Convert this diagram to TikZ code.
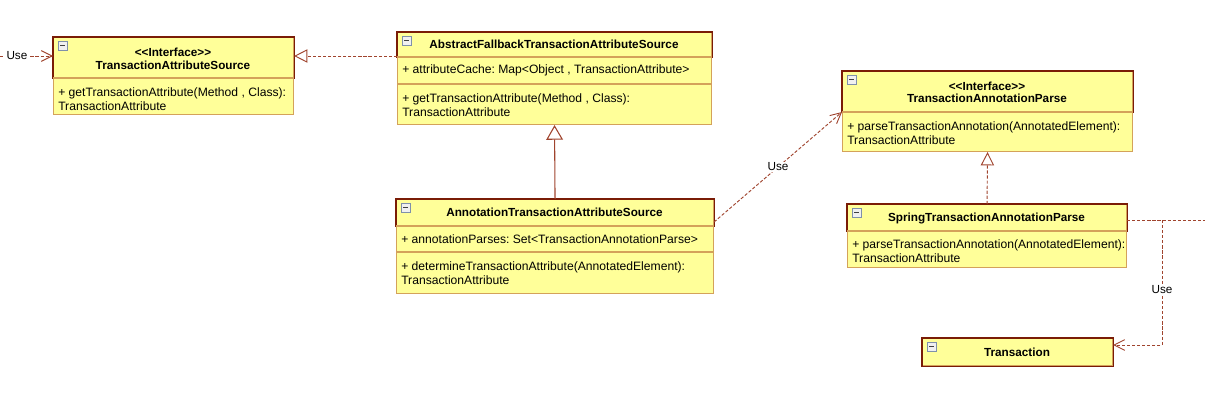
\documentclass[tikz,border=0pt]{standalone}
\usepackage{fontspec}
\setmainfont{Liberation Sans}
\usetikzlibrary{arrows.meta,calc,positioning}
\frenchspacing

\definecolor{classfill}{HTML}{FFFF99}
\definecolor{headline}{HTML}{7A1C06}
\definecolor{partline}{HTML}{D4A25A}
\definecolor{linkline}{HTML}{A0442E}
\definecolor{iconblue}{HTML}{7F90AA}

\tikzset{
  classbox/.style={draw=partline, fill=classfill, line width=0.8pt, inner sep=0pt, anchor=north west},
  headbox/.style={draw=headline, line width=0.85pt},
  divider/.style={draw=partline, line width=0.8pt},
  title/.style={font=\fontsize{8.8}{10}\selectfont\bfseries, inner sep=0pt},
  member/.style={font=\fontsize{9.1}{10.5}\selectfont, align=left, anchor=west, inner sep=0pt},
  uselabel/.style={font=\fontsize{8.8}{10}\selectfont, text=black, fill=white, inner sep=1pt},
  usedep/.style={linkline, line width=0.7pt, dash pattern=on 2.4pt off 1.4pt,
    -{Straight Barb[length=8pt,width=8pt]}},
  realize/.style={linkline, line width=0.7pt, dash pattern=on 2.4pt off 1.4pt,
    -{Triangle[open,length=10pt,width=10pt,fill=white]}},
  generalize/.style={linkline, line width=0.8pt,
    -{Triangle[open,length=11pt,width=12.5pt,fill=white]}},
  collapse/.pic={
    \draw[iconblue, fill=gray!12, line width=0.6pt] (0,0) rectangle (9,9);
    \draw[black!75, line width=0.9pt] (2,4.5) -- (7,4.5);
  }
}

\begin{document}
\begin{tikzpicture}[x=0.75pt, y=-0.75pt]

    \useasboundingbox (0,0) rectangle (1205,403);

    % Class boxes
    \node[classbox, minimum width=180pt, minimum height=57.75pt] (tas) at (53,37) {};
    \node[classbox, minimum width=235.5pt, minimum height=69pt] (aftas) at (397,32) {};
    \node[classbox, minimum width=237.75pt, minimum height=70.5pt] (atas) at (396,199) {};
    \node[classbox, minimum width=217.5pt, minimum height=60pt] (tap) at (842,71) {};
    \node[classbox, minimum width=209.25pt, minimum height=47.25pt] (stap) at (847,204) {};
    \node[classbox, minimum width=142.5pt, minimum height=20.25pt] (trans) at (922,338) {};

    % Headers
    \draw[headbox] (tas.north west) rectangle ($(tas.north east)+(0,41)$);
    \draw[headbox] (aftas.north west) rectangle ($(aftas.north east)+(0,25)$);
    \draw[headbox] (atas.north west) rectangle ($(atas.north east)+(0,27)$);
    \draw[headbox] (tap.north west) rectangle ($(tap.north east)+(0,41)$);
    \draw[headbox] (stap.north west) rectangle ($(stap.north east)+(0,27)$);
    \draw[headbox] (trans.north west) rectangle (trans.south east);

    % Compartment lines
    \draw[divider] ($(tas.north west)+(0,41)$) -- ($(tas.north east)+(0,41)$);
    \draw[divider] ($(aftas.north west)+(0,25)$) -- ($(aftas.north east)+(0,25)$);
    \draw[divider] ($(aftas.north west)+(0,52)$) -- ($(aftas.north east)+(0,52)$);
    \draw[divider] ($(atas.north west)+(0,27)$) -- ($(atas.north east)+(0,27)$);
    \draw[divider] ($(atas.north west)+(0,53)$) -- ($(atas.north east)+(0,53)$);
    \draw[divider] ($(tap.north west)+(0,41)$) -- ($(tap.north east)+(0,41)$);
    \draw[divider] ($(stap.north west)+(0,27)$) -- ($(stap.north east)+(0,27)$);

    % Collapse icons
    \foreach \cls in {tas,aftas,atas,tap,stap,trans}
        \pic at ($(\cls.north west)+(5,4)$) {collapse};

    % Texts
    \node[title] (tas-stereo) at (173,52.5) {<{}<Interface>{}>};
    \node[title] (tas-name) at (173,65) {TransactionAttributeSource};
    \node[member] (tas-op) at (58,99) {+ getTransactionAttribute(Method , Class):\\TransactionAttribute};

    \node[title] (aftas-name) at (554,44.5) {AbstractFallbackTransactionAttributeSource};
    \node[member] (aftas-attr) at (402,70.7) {+ attributeCache: Map<Object , TransactionAttribute>};
    \node[member] (aftas-op) at (402,105.3) {+ getTransactionAttribute(Method , Class):\\TransactionAttribute};

    \node[title] (atas-name) at (554.5,212.5) {AnnotationTransactionAttributeSource};
    \node[member] (atas-attr) at (401,239) {+ annotationParses: Set<TransactionAnnotationParse>};
    \node[member] (atas-op) at (401,273) {+ determineTransactionAttribute(AnnotatedElement):\\TransactionAttribute};

    \node[title] (tap-stereo) at (987,86) {<{}<Interface>{}>};
    \node[title] (tap-name) at (987,98.5) {TransactionAnnotationParse};
    \node[member] (tap-op) at (847,133.3) {+ parseTransactionAnnotation(AnnotatedElement):\\TransactionAttribute};

    \node[title] (stap-name) at (986.5,218) {SpringTransactionAnnotationParse};
    \node[member] (stap-op) at (852,251) {+ parseTransactionAnnotation(AnnotatedElement):\\TransactionAttribute};

    \node[title] (trans-name) at (1017,352) {Transaction};

    % Connectors
    \coordinate (leftin) at (0,56);
    \coordinate (fork) at (1162,220);
    \coordinate (offright) at (1205,220);

    \draw[usedep] (leftin) -- (tas.west |- leftin) node[uselabel, pos=0.32] (use-a) {Use};
    \draw[realize] (aftas.west |- leftin) -- (tas.east |- leftin);
    \draw[generalize] (atas.north) -- (aftas.south);
    \draw[usedep] ($(atas.north east)+(0,23)$) -- ($(tap.north west)+(0,41)$) node[uselabel, midway] (use-b) {Use};
    \draw[realize] (stap.north) -- (tap.south);
    \draw[usedep, -] (stap.east |- fork) -- (offright);
    \draw[usedep] (fork) |- (trans.east |- 0,345) node[uselabel, pos=0.28] (use-c) {Use};

\end{tikzpicture}
\end{document}
